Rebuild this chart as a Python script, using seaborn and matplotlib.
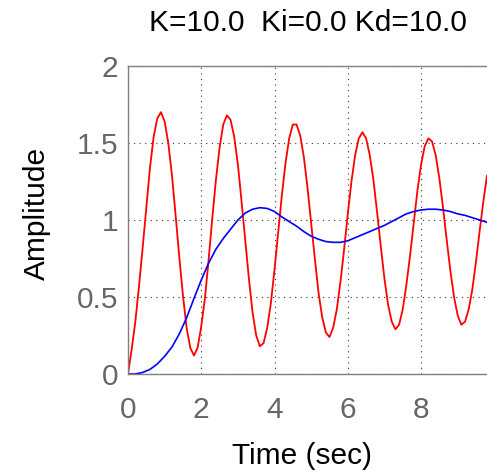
import matplotlib
matplotlib.use("Agg")
import matplotlib.pyplot as plt
import seaborn as sns
import numpy as np
import pandas as pd

# ---- data ----
title_text = "K=10.0  Ki=0.0 Kd=10.0"
x_label = "Time (sec)"
y_label = "Amplitude"
x_ticks = [0, 2, 4, 6, 8]
y_ticks = [0, 0.5, 1, 1.5, 2]
y_tick_labels = ["0", "0.5", "1", "1.5", "2"]

# red (oscillating) response, sampled every 0.1 s from t = 0 to 9.8
red_time = [round(0.1 * i, 1) for i in range(99)]
red_amp = [
    0.00, 0.16, 0.34, 0.57, 0.82, 1.08, 1.34, 1.54, 1.66, 1.70,
    1.64, 1.50, 1.29, 1.03, 0.76, 0.51, 0.30, 0.17, 0.12, 0.17,
    0.31, 0.49, 0.74, 1.01, 1.26, 1.47, 1.62, 1.68, 1.65, 1.54,
    1.36, 1.12, 0.87, 0.62, 0.40, 0.25, 0.18, 0.20, 0.30, 0.46,
    0.68, 0.92, 1.16, 1.37, 1.53, 1.62, 1.62, 1.55, 1.41, 1.21,
    0.98, 0.75, 0.53, 0.37, 0.27, 0.24, 0.30, 0.42, 0.60, 0.81,
    1.04, 1.25, 1.42, 1.53, 1.57, 1.53, 1.42, 1.26, 1.05, 0.83,
    0.62, 0.45, 0.34, 0.29, 0.32, 0.42, 0.58, 0.77, 0.98, 1.19,
    1.36, 1.48, 1.53, 1.51, 1.42, 1.27, 1.08, 0.87, 0.67, 0.50,
    0.38, 0.32, 0.34, 0.42, 0.55, 0.73, 0.93, 1.12, 1.29,
]

# blue (smooth) response, sampled every 0.2 s from t = 0 to 9.8
blue_time = [round(0.2 * i, 1) for i in range(50)]
blue_amp = [
    0.00, 0.00, 0.01, 0.03, 0.065, 0.115, 0.175, 0.26, 0.365, 0.49,
    0.61, 0.72, 0.81, 0.88, 0.94, 1.00, 1.045, 1.07, 1.08, 1.075,
    1.055, 1.02, 0.99, 0.96, 0.925, 0.895, 0.875, 0.86, 0.855, 0.855,
    0.865, 0.885, 0.905, 0.925, 0.945, 0.965, 0.99, 1.015, 1.04, 1.055,
    1.065, 1.07, 1.07, 1.065, 1.055, 1.04, 1.03, 1.015, 1.00, 0.985,
]

red_df = pd.DataFrame({"t": red_time, "y": red_amp})
blue_df = pd.DataFrame({"t": blue_time, "y": blue_amp})

sns.set_theme(style="white")
plt.rcParams["font.family"] = ["Liberation Sans", "DejaVu Sans"]

fig = plt.figure(figsize=(4.87, 4.75), dpi=100)
ax = fig.add_axes([128 / 487, 1 - 374 / 475, 1 - 128 / 487, (374 - 66) / 475])

sns.lineplot(data=red_df, x="t", y="y", ax=ax, color="#ff0000", linewidth=1.3,
             estimator=None, sort=False)
sns.lineplot(data=blue_df, x="t", y="y", ax=ax, color="#0000ff", linewidth=1.2,
             estimator=None, sort=False)

ax.set_xlim(0, 9.8)
ax.set_ylim(0, 2)
ax.set_xticks(x_ticks)
ax.set_xticklabels([str(v) for v in x_ticks])
ax.set_yticks(y_ticks)
ax.set_yticklabels(y_tick_labels)

ax.grid(True, color="#333333", linestyle=(0, (1, 4)), linewidth=0.8)
ax.set_axisbelow(True)

for side in ["left", "bottom", "top"]:
    ax.spines[side].set_color("#808080")
    ax.spines[side].set_linewidth(1.0)
ax.spines["right"].set_visible(False)

ax.tick_params(axis="both", direction="in", length=4, width=0.8,
               color="#808080", labelcolor="#666666", labelsize=21.5)
ax.tick_params(axis="x", pad=16)
ax.tick_params(axis="y", pad=7)

ax.set_xlabel(x_label, fontsize=21.5, color="black")
ax.set_ylabel(y_label, fontsize=21.5, color="black")
ax.xaxis.set_label_coords((302 - 128) / (487 - 128), -(442 - 374) / (374 - 66))
ax.yaxis.set_label_coords(-(128 - 51) / (487 - 128), (374 - 213) / (374 - 66))
ax.set_title(title_text, fontsize=21.5, color="black", pad=25)

fig.savefig("out.png", dpi=100)
